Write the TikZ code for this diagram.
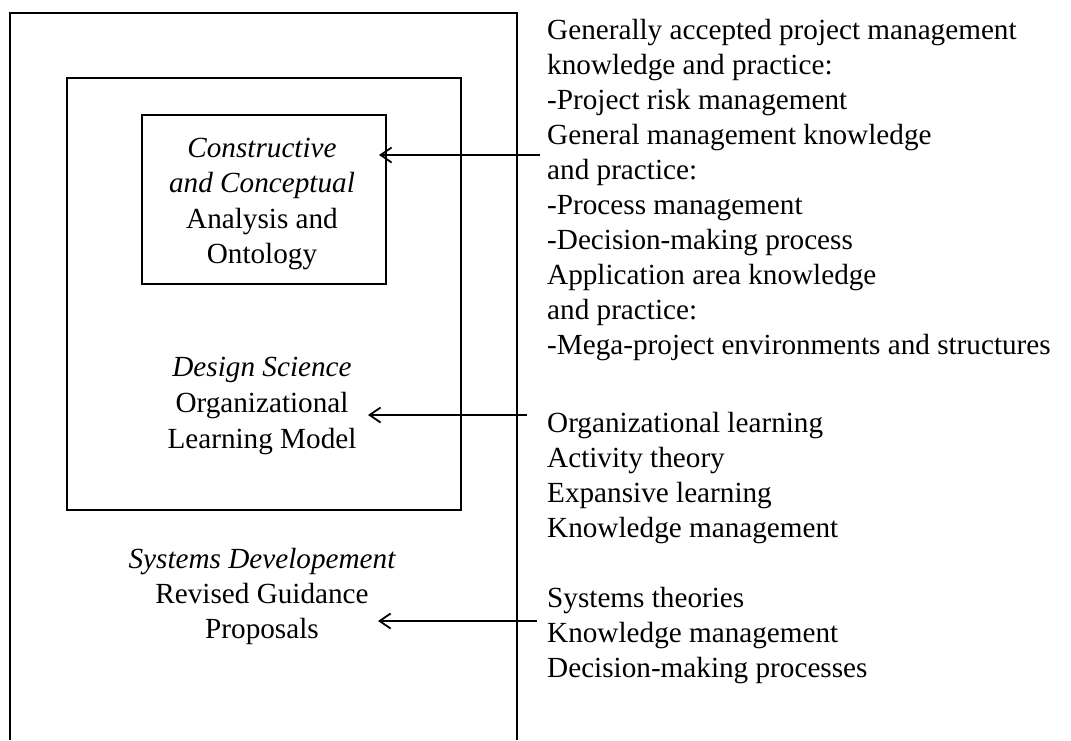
\documentclass[tikz,border=0pt]{standalone}
\usepackage{fontspec}
\setmainfont{Liberation Serif}
\usetikzlibrary{arrows.meta}
\tikzset{
  txt/.style={anchor=base, inner sep=0pt, font=\fontsize{29.2}{35}\selectfont},
  rtxt/.style={anchor=base west, inner sep=0pt, font=\fontsize{29.2}{35}\selectfont},
  boxline/.style={draw, line width=1.8pt},
  conn/.style={line width=1.8pt, -{Straight Barb[length=11pt,width=15pt]}}
}
\begin{document}
\begin{tikzpicture}[x=1pt,y=-1pt]
\useasboundingbox (0,0) rectangle (1071,740);
% outer frame (open at the bottom)
\draw[line width=1.8pt] (10,740) -- (10,13) -- (517,13) -- (517,740);
% boxes
\node[boxline, minimum width=394pt, minimum height=432pt, inner sep=0pt] (box2) at (264,294) {};
\node[boxline, minimum width=244pt, minimum height=169pt, inner sep=0pt] (box1) at (264,199.5) {};
% left texts
\node[txt] (a1) at (262,157) {\itshape Constructive};
\node[txt] (a2) at (262,192) {\itshape and Conceptual};
\node[txt] (a3) at (262,228) {Analysis and};
\node[txt] (a4) at (262,263) {Ontology};
\node[txt] (b1) at (262,376) {\itshape Design Science};
\node[txt] (b2) at (262,412) {Organizational};
\node[txt] (b3) at (262,448) {Learning Model};
\node[txt] (c1) at (262,568) {\itshape Systems Developement};
\node[txt] (c2) at (262,603) {Revised Guidance};
\node[txt] (c3) at (262,638) {Proposals};
% right texts
\foreach \t [count=\i] in {Generally accepted project management, knowledge and practice:, -Project risk management, General management knowledge, and practice:, -Process management, -Decision-making process, Application area knowledge, and practice:, -Mega-project environments and structures}
  \node[rtxt] (r\i) at (547,{39+35.1*(\i-1)}) {\t};
\foreach \t [count=\i] in {Organizational learning, Activity theory, Expansive learning, Knowledge management}
  \node[rtxt] (s\i) at (547,{432+35.3*(\i-1)}) {\t};
\foreach \t [count=\i] in {Systems theories, Knowledge management, Decision-making processes}
  \node[rtxt] (t\i) at (547,{607+35*(\i-1)}) {\t};
% arrows
\coordinate (p1s) at (540,155);
\coordinate (p1e) at (379,155);
\coordinate (p2s) at (527,415);
\coordinate (p2e) at (368,415);
\coordinate (p3s) at (537,621);
\coordinate (p3e) at (378,621);
\draw[conn] (p1s) -- (p1e);
\draw[conn] (p2s) -- (p2e);
\draw[conn] (p3s) -- (p3e);
\end{tikzpicture}
\end{document}
